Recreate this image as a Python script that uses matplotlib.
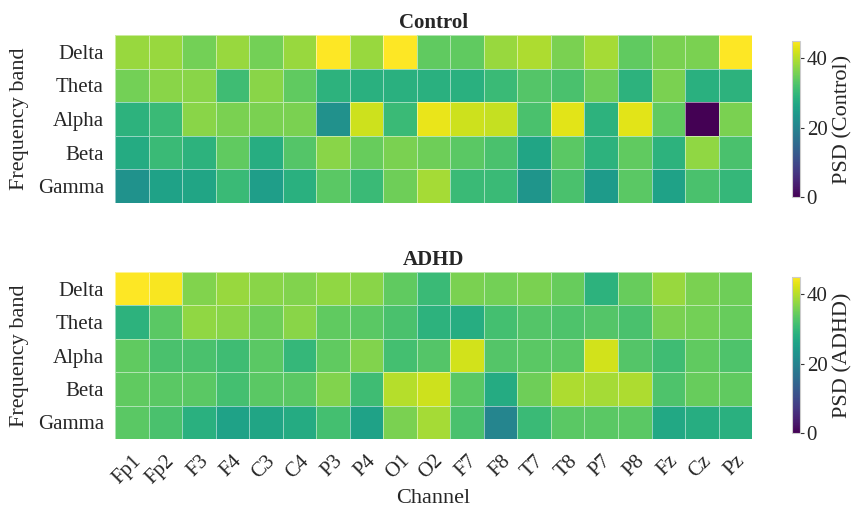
import numpy as np
import matplotlib
matplotlib.use("Agg")
from matplotlib import pyplot as plt

plt.rcParams['font.family'] = ['Liberation Serif', 'DejaVu Serif']
plt.rcParams['text.color'] = '#262626'
plt.rcParams['axes.labelcolor'] = '#262626'
plt.rcParams['xtick.color'] = '#262626'
plt.rcParams['ytick.color'] = '#262626'

channels = ['Fp1', 'Fp2', 'F3', 'F4', 'C3', 'C4', 'P3', 'P4', 'O1', 'O2',
            'F7', 'F8', 'T7', 'T8', 'P7', 'P8', 'Fz', 'Cz', 'Pz']
bands = ['Delta', 'Theta', 'Alpha', 'Beta', 'Gamma']

# PSD per band (rows) and channel (columns)
control_delta = [38, 38, 35.5, 38, 35.5, 38, 45, 38, 45, 34, 34, 38, 39.5, 36, 39, 34, 36, 36, 45]
control_theta = [35.5, 37, 37, 31, 37, 34, 29, 28.5, 28.5, 28.5, 28.5, 30.5, 33, 32, 35, 29, 36, 28.5, 29]
control_alpha = [29, 30.5, 37, 36, 36, 36, 22.5, 41.5, 30.5, 43.5, 41.5, 41, 32, 43, 29, 43, 34, 0, 36]
control_beta = [27.5, 30.5, 29, 34, 28, 33, 37, 34.5, 36, 35, 33.5, 32, 26.5, 33.5, 29, 34, 29, 37.5, 32]
control_gamma = [23, 26, 26.5, 30.5, 25, 28.5, 33.5, 30.5, 35, 39, 30.5, 30.5, 23.5, 32, 24.5, 33.5, 26, 32, 30]

adhd_delta = [45, 44.5, 36.5, 38, 37, 36.5, 37.5, 37, 34, 30.5, 36, 35.5, 36, 34.5, 29, 34.5, 38, 36, 35]
adhd_theta = [29, 33.5, 37.5, 37, 35, 37, 34, 33.5, 32, 29, 28, 31.5, 33, 32.5, 33, 32, 36, 35.5, 34.5]
adhd_alpha = [34, 32, 32, 31, 33.5, 30, 34, 36.5, 31.5, 33, 42, 33, 33.5, 33.5, 42, 33, 31, 34, 32.5]
adhd_beta = [34, 33.5, 33.5, 31.5, 33.5, 33.5, 36.5, 31, 40, 41.5, 33.5, 27.5, 35, 39.5, 39, 39.5, 32.5, 34.5, 34]
adhd_gamma = [33.5, 32, 28.5, 26, 26.5, 27.5, 31.5, 26, 36, 39, 32, 20.5, 30.5, 33.5, 33.5, 33.5, 27, 28, 28.5]

control = np.array([control_delta, control_theta, control_alpha, control_beta, control_gamma])
adhd = np.array([adhd_delta, adhd_theta, adhd_alpha, adhd_beta, adhd_gamma])

vmin, vmax = 0, 45

fig = plt.figure(figsize=(8.54, 5.12), dpi=100)

panels = [
    (control, 'Control', 'PSD (Control)', [0.1347, 0.6035, 0.746, 0.328], [0.927, 0.615, 0.0095, 0.305]),
    (adhd, 'ADHD', 'PSD (ADHD)', [0.1347, 0.1426, 0.746, 0.326], [0.927, 0.154, 0.0095, 0.305]),
]

for i, (data, title, cblabel, rect, crect) in enumerate(panels):
    ax = fig.add_axes(rect)
    mesh = ax.pcolormesh(data, cmap='viridis', vmin=vmin, vmax=vmax,
                         edgecolor=(1, 1, 1, 0.5), linewidth=0.7)
    ax.set_xlim(0, len(channels))
    ax.set_ylim(len(bands), 0)
    ax.set_yticks(np.arange(len(bands)) + 0.5)
    ax.set_yticklabels(bands, fontsize=15)
    ax.set_xticks(np.arange(len(channels)) + 0.5)
    if i == 1:
        ax.set_xticklabels(channels, fontsize=15, rotation=45, ha='right',
                           rotation_mode='anchor')
        ax.set_xlabel('Channel', fontsize=16, labelpad=1)
    else:
        ax.set_xticklabels([])
    ax.tick_params(axis='y', length=0, pad=8)
    ax.tick_params(axis='x', length=0, pad=9)
    ax.set_ylabel('Frequency band', fontsize=16, labelpad=6)
    ax.set_title(title, fontsize=15, fontweight='bold', pad=5)
    for s in ax.spines.values():
        s.set_visible(False)

    cax = fig.add_axes(crect)
    cb = fig.colorbar(mesh, cax=cax)
    cb.set_ticks([0, 20, 40])
    cb.ax.tick_params(labelsize=15, length=3, width=0.8, color='#333333', pad=2)
    cb.outline.set_edgecolor('#cccccc')
    cb.outline.set_linewidth(0.8)
    cb.set_label(cblabel, fontsize=16, labelpad=4)

fig.savefig('out.png', dpi=100)
